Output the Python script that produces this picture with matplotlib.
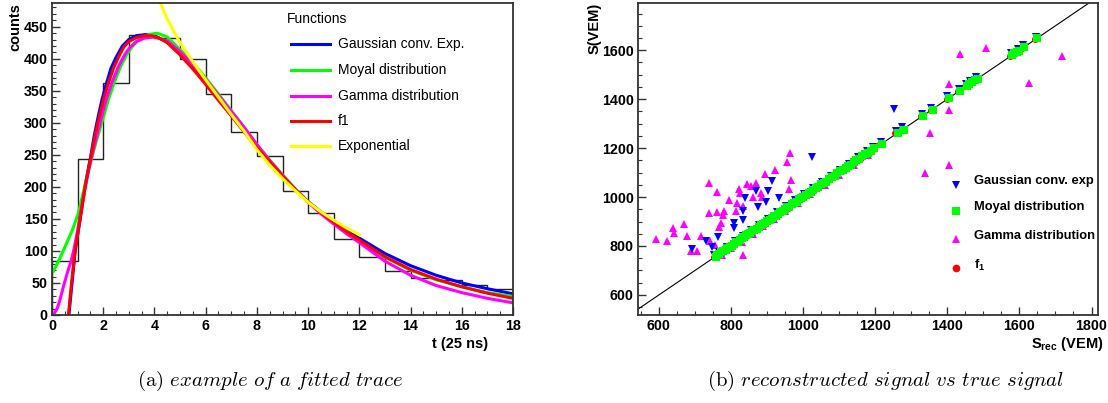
import matplotlib
matplotlib.use('Agg')
import matplotlib.pyplot as plt
from matplotlib.ticker import MultipleLocator

plt.rcParams['font.family'] = ['Liberation Sans', 'DejaVu Sans']
plt.rcParams['mathtext.fontset'] = 'custom'
plt.rcParams['mathtext.rm'] = 'Liberation Sans'
plt.rcParams['mathtext.bf'] = 'Liberation Sans:bold'
plt.rcParams['mathtext.it'] = 'Liberation Sans:italic'

# ---- left panel: trace histogram (counts per 25 ns bin) ----
bin_edges = list(range(0, 19))
trace_counts = [84, 244, 362, 437, 432, 399, 345, 286, 248, 194, 159, 118, 90, 69, 57, 54, 47, 41]

gauss_t = [0.66, 0.77, 0.9, 1.0, 1.1, 1.2, 1.3, 1.42, 1.5, 1.65, 1.8, 1.95, 2.1, 2.3, 2.5, 2.75,
           3.0, 3.3, 3.7, 4.0, 4.5, 5.0, 5.5, 6.0, 6.5, 7.0, 7.5, 8.0, 8.5, 9.0, 9.5, 10, 10.5,
           11, 11.5, 12, 13, 14, 15, 16, 17, 18]
gauss_v = [0, 45, 98, 125, 150, 177, 203, 229, 245, 280, 309, 336, 358, 385, 402, 420,
           430, 436, 438, 436, 426, 408, 386, 362, 337, 312, 287, 261, 238, 216, 196, 177, 161,
           147, 133, 120, 96, 77, 62, 50, 41, 33]

moyal_t = [0.05, 0.3, 0.57, 0.8, 1.03, 1.2, 1.42, 1.65, 1.875, 2.0, 2.2, 2.4, 2.68, 2.9, 3.11,
           3.4, 3.7, 4.1, 4.5, 5.0, 5.5, 6.0, 6.5, 7.0, 7.5, 8.0, 8.5, 9.0, 9.5, 10, 10.5, 11,
           11.5, 12, 13, 14, 15, 16, 17, 18]
moyal_v = [68, 88, 112, 133, 159, 188, 225, 260, 291, 308, 336, 360, 388, 405, 418,
           430, 437, 440, 434, 414, 394, 370, 345, 319, 293, 266, 242, 219, 197, 177, 160, 145,
           130, 116, 90, 70, 55, 44, 35, 29]

gamma_t = [0.05, 0.2, 0.3, 0.45, 0.6, 0.75, 0.86, 1.0, 1.07, 1.2, 1.4, 1.6, 1.8, 2.1, 2.35,
           2.6, 2.85, 3.05, 3.3, 3.6, 4.0, 4.5, 5.0, 5.5, 6.0, 6.5, 7.0, 7.5, 8.0, 8.5, 9.0,
           9.5, 10, 10.5, 11, 11.5, 12, 13, 14, 15, 16, 17, 18]
gamma_v = [0, 10, 22, 45, 66, 85, 103, 132, 148, 178, 220, 256, 288, 334, 364,
           388, 407, 418, 427, 432, 434, 428, 411, 391, 368, 343, 318, 293, 266, 241, 218,
           196, 176, 158, 142, 127, 113, 84, 62, 46, 35, 26, 19]

f1_t = [0.64, 0.75, 0.9, 1.0, 1.1, 1.2, 1.3, 1.42, 1.5, 1.7, 1.85, 2.0, 2.2, 2.4, 2.6, 2.8,
        3.0, 3.3, 3.6, 3.9, 4.2, 4.5, 5.0, 5.5, 6.0, 6.5, 7.0, 7.5, 8.0, 8.5, 9.0, 9.5, 10,
        10.5, 11, 11.5, 12, 13, 14, 15, 16, 17, 18]
f1_v = [0, 45, 100, 126, 150, 176, 202, 227, 243, 284, 310, 335, 362, 385, 403, 418,
        427, 433, 436, 436, 432, 425, 406, 384, 360, 335, 311, 286, 261, 239, 217, 196, 176,
        160, 145, 130, 117, 91, 71, 56, 44, 34, 26]

expo_t = [4.2, 4.5, 5.0, 5.5, 6.0, 6.5, 7.0, 7.5, 8.0, 8.5, 9.0, 9.5, 10, 10.5, 11, 11.5, 12]
expo_v = [490, 462, 425, 395, 367, 340, 313, 287, 258, 234, 213, 194, 176, 161, 148, 136, 125]

fit_labels = ['Gaussian conv. Exp.', 'Moyal distribution', 'Gamma distribution', 'f1', 'Exponential']

# ---- right panel: reconstructed vs true signal (VEM) ----
moyal_rx = [757, 762, 768, 773, 779, 785, 790, 796, 802, 808, 813, 819, 825, 830, 836, 842,
            848, 853, 859, 865, 871, 877, 883, 889, 895, 901, 907, 913, 919, 925, 931, 937,
            944, 950, 956, 962, 969, 975, 982, 988, 995, 1001, 1008, 1015, 1021, 1028, 1035,
            1042, 1050, 1057, 1064, 1072, 1080, 1088, 1095, 1102, 1110, 1118, 1125, 1132,
            1140, 1148, 1156, 1164, 1172, 1180, 1188, 1196, 1219, 1262, 1279, 1333, 1360,
            1404, 1436, 1455, 1461, 1468, 1476, 1484, 1580, 1586, 1593, 1599, 1613, 1649]
moyal_ry = [756, 763, 767, 775, 780, 784, 792, 797, 801, 809, 815, 818, 826, 832, 835, 843,
            850, 852, 860, 866, 870, 878, 885, 888, 896, 903, 906, 914, 921, 924, 932, 939,
            943, 951, 958, 961, 970, 977, 981, 990, 996, 1000, 1010, 1016, 1020, 1030, 1036,
            1041, 1052, 1058, 1063, 1074, 1081, 1087, 1097, 1105, 1109, 1120, 1127, 1131,
            1142, 1150, 1155, 1166, 1174, 1179, 1190, 1200, 1218, 1262, 1276, 1333, 1357,
            1405, 1435, 1453, 1463, 1470, 1478, 1484, 1580, 1587, 1592, 1598, 1612, 1648]

gauss_rx = [753, 768, 788, 810, 833, 856, 878, 903, 928, 953, 978, 1003, 1028, 1053, 1078,
            1103, 1128, 1153, 1178, 1193, 1215, 1258, 1275, 1329, 1356, 1400, 1432, 1451,
            1464, 1480, 1576, 1595, 1609, 1645,
            1024, 914, 903, 868, 932, 897, 840, 875, 832, 808, 832, 808, 764, 731, 747, 692, 1253]
gauss_ry = [762, 777, 797, 819, 842, 865, 887, 912, 937, 962, 987, 1012, 1037, 1062, 1087,
            1112, 1137, 1162, 1187, 1204, 1225, 1268, 1285, 1340, 1365, 1411, 1443, 1462,
            1475, 1491, 1590, 1606, 1620, 1656,
            1162, 1064, 1026, 1026, 996, 980, 996, 958, 944, 896, 906, 873, 836, 822, 797, 786, 1358]

gamma_rx = [775, 800, 830, 860, 890, 920, 950, 985, 1020, 1060, 1100, 1140, 1180,
            964, 955, 921, 895, 738, 845, 855, 869, 823, 825, 762, 882, 966, 960, 795, 862,
            886, 817, 834, 738, 762, 780, 814, 779, 773, 768, 669, 640, 642, 677, 716, 623,
            742, 705, 688, 834, 756, 591, 1434, 1508, 1406, 1627, 1406, 1351, 1404, 1339, 1718]
gamma_ry = [765, 790, 818, 850, 880, 912, 942, 975, 1012, 1050, 1092, 1133, 1172,
            1181, 1143, 1110, 1094, 1058, 1052, 1046, 1058, 1031, 1018, 1020, 1018, 1069, 1031,
            988, 999, 999, 977, 963, 934, 939, 944, 944, 925, 893, 876, 890, 873, 854, 841, 841,
            819, 822, 781, 779, 762, 803, 829, 1584, 1611, 1461, 1467, 1355, 1260, 1133, 1100, 1576]

f1_rx = [752, 770, 792, 815, 838, 860, 884, 908, 932, 958, 982, 1008, 1032, 1058, 1082, 1108,
         1132, 1158, 1182, 1213, 1256, 1273, 1327, 1354, 1398, 1430, 1449, 1462, 1478, 1574,
         1593, 1607, 1643]
f1_ry = [756, 772, 793, 815, 838, 861, 884, 907, 933, 957, 981, 1008, 1031, 1057, 1083, 1107,
         1131, 1157, 1181, 1216, 1260, 1276, 1331, 1357, 1402, 1434, 1452, 1466, 1481, 1578,
         1597, 1611, 1647]

scatter_labels = ['Gaussian conv. exp', 'Moyal distribution', 'Gamma distribution']

W, H = 1108, 403
fig = plt.figure(figsize=(W / 100, H / 100), dpi=100)


def style_axes(ax):
    for s in ax.spines.values():
        s.set_color('#333333')
        s.set_linewidth(1.3)
    ax.tick_params(which='both', direction='in', top=False, right=False,
                   labelsize=10.3, pad=3, color='#333333')
    ax.tick_params(which='major', length=5.5, width=1.0)
    ax.tick_params(which='minor', length=2.8, width=0.8)
    for lab in ax.get_xticklabels() + ax.get_yticklabels():
        lab.set_fontweight('bold')


# left panel
ax1 = fig.add_axes([52 / W, 1 - 315 / H, 461 / W, 312 / H])
ax1.stairs(trace_counts, bin_edges, color='#222222', linewidth=1.0)
ax1.plot(gauss_t, gauss_v, color='#0000ff', lw=2.2, label=fit_labels[0])
ax1.plot(moyal_t, moyal_v, color='#00ff00', lw=2.2, label=fit_labels[1])
ax1.plot(gamma_t, gamma_v, color='#ff00ff', lw=2.2, label=fit_labels[2])
ax1.plot(f1_t, f1_v, color='#ff0000', lw=2.2, label=fit_labels[3])
ax1.plot(expo_t, expo_v, color='#ffff00', lw=2.2, label=fit_labels[4])
ax1.set_xlim(0, 18)
ax1.set_ylim(0, 487)
ax1.xaxis.set_major_locator(MultipleLocator(2))
ax1.xaxis.set_minor_locator(MultipleLocator(0.5))
ax1.yaxis.set_major_locator(MultipleLocator(50))
ax1.yaxis.set_minor_locator(MultipleLocator(10))
style_axes(ax1)

# legend drawn by hand (no frame)
ax1.text(0.51, 0.949, 'Functions', transform=ax1.transAxes, fontsize=10, va='center')
leg_cols = ['#0000ff', '#00ff00', '#ff00ff', '#ff0000', '#ffff00']
leg_rows = [0.869, 0.785, 0.702, 0.622, 0.542]
for lab, col, yy in zip(fit_labels, leg_cols, leg_rows):
    ax1.plot([0.518, 0.602], [yy, yy], color=col, lw=2.2, transform=ax1.transAxes)
    ax1.text(0.620, yy, lab, transform=ax1.transAxes, fontsize=10, va='center')

ax1.text(0.946, -0.093, 't (25 ns)', transform=ax1.transAxes, fontsize=10.5,
         fontweight='bold', ha='right', va='center')
fig.text(15 / W, 1 - 3 / H, 'counts', rotation=90, fontsize=10.5, fontweight='bold',
         ha='center', va='top')

# right panel
ax2 = fig.add_axes([638 / W, 1 - 315 / H, 460 / W, 312 / H])
ax2.plot([540, 1820], [540, 1820], color='black', lw=0.8)
ax2.plot(gamma_rx, gamma_ry, '^', color='#ff00ff', ms=5.5, mew=0, ls='none')
ax2.plot(f1_rx, f1_ry, 'o', color='#ff0000', ms=5.0, mew=0, ls='none')
ax2.plot(gauss_rx, gauss_ry, 'v', color='#0000ff', ms=5.5, mew=0, ls='none')
ax2.plot(moyal_rx, moyal_ry, 's', color='#00ff00', ms=5.8, mew=0, ls='none')
ax2.set_xlim(542, 1818)
ax2.set_ylim(518, 1793)
ax2.xaxis.set_major_locator(MultipleLocator(200))
ax2.xaxis.set_minor_locator(MultipleLocator(50))
ax2.yaxis.set_major_locator(MultipleLocator(200))
ax2.yaxis.set_minor_locator(MultipleLocator(50))
style_axes(ax2)

leg_marks = [('v', '#0000ff', scatter_labels[0], 0.417, 0.431),
             ('s', '#00ff00', scatter_labels[1], 0.334, 0.347),
             ('^', '#ff00ff', scatter_labels[2], 0.244, 0.253),
             ('o', '#ff0000', None, 0.151, 0.160)]
for mk, col, lab, ym, yt in leg_marks:
    ax2.plot([0.691], [ym], mk, color=col, ms=5.5, mew=0, transform=ax2.transAxes, clip_on=False)
    if lab:
        ax2.text(0.730, yt, lab, transform=ax2.transAxes, fontsize=9.3, fontweight='bold', va='center')
ax2.text(0.730, 0.160, r'f$_{\mathbf{1}}$', transform=ax2.transAxes, fontsize=9.3,
         fontweight='bold', va='center')

ax2.text(1.011, -0.093, r'S$_{\mathbf{rec}}$ (VEM)', transform=ax2.transAxes, fontsize=10.5,
         fontweight='bold', ha='right', va='center')
fig.text(595 / W, 1 - 3 / H, 'S(VEM)', rotation=90, fontsize=10.5, fontweight='bold',
         ha='center', va='top')

# captions
fig.text(270 / W, 1 - 381 / H, r'$\mathrm{(a)}\ \mathit{example\ of\ a\ fitted\ trace}$',
         math_fontfamily='cm', fontsize=15, ha='center', va='center')
fig.text(886 / W, 1 - 381 / H, r'$\mathrm{(b)}\ \mathit{reconstructed\ signal\ vs\ true\ signal}$',
         math_fontfamily='cm', fontsize=15, ha='center', va='center')

fig.savefig('out.png', dpi=100)
